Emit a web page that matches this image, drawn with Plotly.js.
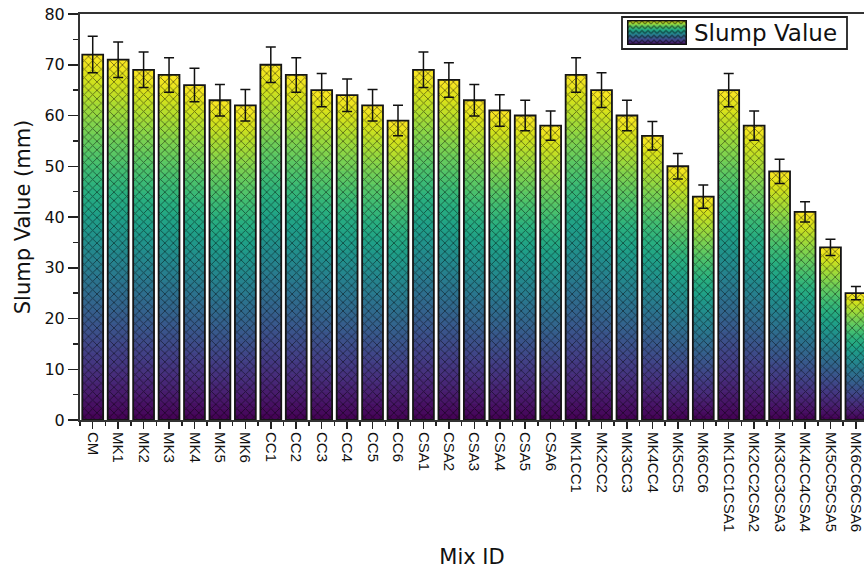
<!DOCTYPE html>
<html>
<head>
<meta charset="utf-8">
<script src="https://cdn.plot.ly/plotly-3.0.1.min.js"></script>
<style>
  html, body { margin: 0; padding: 0; background: #ffffff; }
  #chart { width: 864px; height: 573px; }
</style>
</head>
<body>
<div id="chart"></div>
<script>
// ---------------- data ----------------
const categories = ['CM','MK1','MK2','MK3','MK4','MK5','MK6',
  'CC1','CC2','CC3','CC4','CC5','CC6',
  'CSA1','CSA2','CSA3','CSA4','CSA5','CSA6',
  'MK1CC1','MK2CC2','MK3CC3','MK4CC4','MK5CC5','MK6CC6',
  'MK1CC1CSA1','MK2CC2CSA2','MK3CC3CSA3','MK4CC4CSA4','MK5CC5CSA5','MK6CC6CSA6'];
const slumpValues = [72,71,69,68,66,63,62,
  70,68,65,64,62,59,
  69,67,63,61,60,58,
  68,65,60,56,50,44,
  65,58,49,41,34,25];
const slumpErrors = [3.6,3.5,3.5,3.4,3.3,3.1,3.1,
  3.5,3.4,3.3,3.2,3.1,3.0,
  3.5,3.4,3.1,3.1,3.0,2.9,
  3.4,3.4,3.0,2.8,2.5,2.3,
  3.3,2.9,2.4,2.0,1.6,1.3];
const yTickVals = [0,10,20,30,40,50,60,70,80];
const seriesName = 'Slump Value';
const xTitle = 'Mix ID';
const yTitle = 'Slump Value (mm)';

// ---------------- colours ----------------
const viridis = ['#440154','#48186a','#472d7b','#424086','#3b528b','#33638d','#2c728e',
  '#26828e','#21918c','#1fa088','#28ae80','#3fbc73','#5ec962','#84d44b','#addc30','#d8e219','#fde725'];
function hex2rgb(h){ return [parseInt(h.slice(1,3),16),parseInt(h.slice(3,5),16),parseInt(h.slice(5,7),16)]; }
function viridisAt(t){
  t = Math.max(0, Math.min(1, t));
  const n = viridis.length - 1, p = t * n, i = Math.min(Math.floor(p), n - 1), f = p - i;
  const a = hex2rgb(viridis[i]), b = hex2rgb(viridis[i+1]);
  const c = a.map((v,k) => Math.round(v + (b[k]-v)*f));
  return 'rgb(' + c.join(',') + ')';
}

// ---------------- geometry ----------------
const W = 864, H = 573;
const M = {l: 80, r: 0, t: 14, b: 153};
const plotW = W - M.l - M.r, plotH = H - M.t - M.b;
const px2x = px => (px - M.l) / plotW;
const px2y = py => (H - M.b - py) / plotH;

const FONT = 'DejaVu Sans, Arial, sans-serif';
const FONT_X = 'Liberation Sans, Arial, sans-serif';
const idx = categories.map((c, i) => i);
const BARW = 0.82;

// gradient bands (each bar shaded purple -> yellow from its base to its top)
const NSEG = 60;
const traces = [];
for (let j = 0; j < NSEG; j++) {
  const base = slumpValues.map(v => v * j / NSEG);
  const top = slumpValues.map(v => v * Math.min(j + 1.6, NSEG) / NSEG);
  traces.push({
    type: 'bar', x: idx, y: top.map((t, k) => t - base[k]), base: base,
    width: BARW, showlegend: false, hoverinfo: 'skip',
    marker: {color: viridisAt((j + 0.5) / NSEG), line: {width: 0}}
  });
}
// outline + texture + error bars
traces.push({
  type: 'bar', name: seriesName, x: idx, y: slumpValues, width: BARW,
  showlegend: false,
  marker: {
    color: 'rgba(0,0,0,0)',
    line: {color: '#151515', width: 1.8},
    pattern: {shape: 'x', size: 6, solidity: 0.28, fgcolor: 'rgba(0,0,0,0.5)', bgcolor: 'rgba(0,0,0,0)'}
  },
  error_y: {type: 'data', array: slumpErrors, visible: true, color: '#111', thickness: 1.5, width: 5}
});

// legend swatch as an svg image (gradient + zigzag texture)
let stops = '';
viridis.forEach((c, i) => { stops += "<stop offset='" + (i/(viridis.length-1)).toFixed(3) + "' stop-color='" + c + "'/>"; });
const swatchSvg = "<svg xmlns='http://www.w3.org/2000/svg' width='60' height='26' viewBox='0 0 60 26' preserveAspectRatio='none'>" +
  "<defs><linearGradient id='g' x1='0' y1='1' x2='0' y2='0'>" + stops + "</linearGradient>" +
  "<pattern id='p' width='6' height='5' patternUnits='userSpaceOnUse'><path d='M0,4 L3,1 L6,4' fill='none' stroke='rgba(0,0,0,0.5)' stroke-width='1.3'/></pattern></defs>" +
  "<rect width='60' height='26' fill='url(#g)'/><rect width='60' height='26' fill='url(#p)'/>" +
  "<rect x='0.75' y='0.75' width='58.5' height='24.5' fill='none' stroke='#111' stroke-width='1.5'/></svg>";
const swatchUri = 'data:image/svg+xml;charset=utf-8,' + encodeURIComponent(swatchSvg);

const layout = {
  width: W, height: H,
  margin: M,
  paper_bgcolor: '#ffffff', plot_bgcolor: '#ffffff',
  barmode: 'overlay',
  hovermode: false,
  showlegend: false,
  font: {family: FONT, color: '#111', size: 15},
  xaxis: {
    type: 'linear',
    range: [-0.5, -0.5 + plotW / 25.44],
    tickmode: 'array', tickvals: idx, ticktext: categories,
    tickangle: 90,
    ticklabeloverflow: 'allow',
    ticks: 'outside', ticklen: 7, tickwidth: 1.5, tickcolor: '#222',
    minor: {tickmode: 'linear', tick0: 0.5, dtick: 1, ticks: 'outside', ticklen: 4, tickwidth: 1.5, tickcolor: '#222'},
    showline: true, linewidth: 2, linecolor: '#333', mirror: true,
    showgrid: false, zeroline: false,
    tickfont: {family: FONT_X, size: 15, color: '#111'},
    title: {text: xTitle, font: {family: FONT, size: 21, color: '#111'}, standoff: 18},
    automargin: false
  },
  yaxis: {
    range: [0, 80],
    tickmode: 'array', tickvals: yTickVals,
    ticks: 'outside', ticklen: 10, tickwidth: 1.5, tickcolor: '#222',
    minor: {tickmode: 'linear', tick0: 5, dtick: 10, ticks: 'outside', ticklen: 5, tickwidth: 1.5, tickcolor: '#222'},
    showline: true, linewidth: 2, linecolor: '#333', mirror: false,
    showgrid: false, zeroline: false,
    tickfont: {family: FONT, size: 16, color: '#111'},
    title: {text: yTitle, font: {family: FONT, size: 21, color: '#111'}, standoff: 8},
    automargin: false
  },
  shapes: [
    {type: 'rect', xref: 'paper', yref: 'paper', layer: 'above',
     x0: px2x(622), x1: px2x(847), y0: px2y(49), y1: px2y(17),
     fillcolor: 'rgba(0,0,0,0)', line: {color: '#222', width: 1.8}}
  ],
  images: [
    {source: swatchUri, xref: 'paper', yref: 'paper', layer: 'above',
     x: px2x(627), y: px2y(20), sizex: px2x(687) - px2x(627), sizey: px2y(20) - px2y(45),
     xanchor: 'left', yanchor: 'top', sizing: 'stretch'}
  ],
  annotations: [
    {xref: 'paper', yref: 'paper', x: px2x(692), y: px2y(33), xanchor: 'left', yanchor: 'middle',
     text: seriesName, showarrow: false, font: {family: FONT, size: 23, color: '#111'}}
  ]
};

Plotly.newPlot('chart', traces, layout, {displayModeBar: false, staticPlot: true});
</script>
</body>
</html>
